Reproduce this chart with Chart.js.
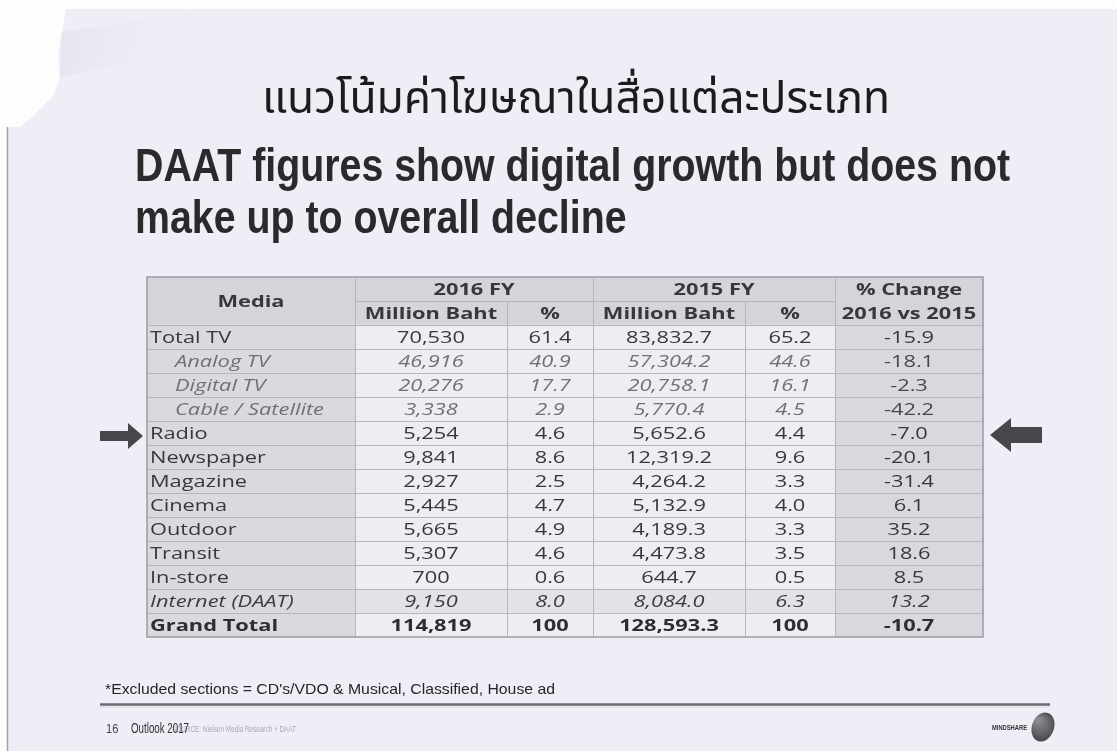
<!DOCTYPE html>
<html><head><meta charset="utf-8">
<script src="https://cdn.jsdelivr.net/npm/chart.js@4.4.1/dist/chart.umd.min.js"></script>
<style>
html,body{margin:0;padding:0;width:1117px;height:751px;overflow:hidden;background:#fff;}
canvas{position:absolute;left:0;top:0;}
</style></head><body>
<canvas id="c" width="1117" height="751"></canvas>
<script>
// ---------- data ----------
const media = ['Total TV','Analog TV','Digital TV','Cable / Satellite','Radio','Newspaper','Magazine','Cinema','Outdoor','Transit','In-store','Internet (DAAT)','Grand Total'];
const rowStyle = ['normal','sub','sub','sub','normal','normal','normal','normal','normal','normal','normal','italic','bold'];
const mb2016 = [70530,46916,20276,3338,5254,9841,2927,5445,5665,5307,700,9150,114819];
const pct2016 = [61.4,40.9,17.7,2.9,4.6,8.6,2.5,4.7,4.9,4.6,0.6,8.0,100];
const mb2015 = [83832.7,57304.2,20758.1,5770.4,5652.6,12319.2,4264.2,5132.9,4189.3,4473.8,644.7,8084.0,128593.3];
const pct2015 = [65.2,44.6,16.1,4.5,4.4,9.6,3.3,4.0,3.3,3.5,0.5,6.3,100];
const change = [-15.9,-18.1,-2.3,-42.2,-7.0,-20.1,-31.4,6.1,35.2,18.6,8.5,13.2,-10.7];
const headerTop = ['Media','2016 FY','2015 FY','% Change'];
const headerSub = ['Million Baht','%','Million Baht','%','2016 vs 2015'];
const thaiTitle = 'แนวโน้มค่าโฆษณาในสื่อแต่ละประเภท';
const headline = ['DAAT figures show digital growth but does not','make up to overall decline'];
const footnote = "*Excluded sections = CD's/VDO & Musical, Classified, House ad";
const pageNo = '16', outlook = 'Outlook 2017', source = 'SOURCE: Nielsen Media Research + DAAT', brand = 'MINDSHARE';
const highlightRow = 'Radio';

// ---------- layout ----------
const colWidths = [208,152,86,152,90,148];
const rowLabels = ['', ''].concat(media);
const NCOL = colWidths.length;
const totalW = colWidths.reduce((a,b)=>a+b,0);
const cum = [0]; colWidths.forEach(w=>cum.push(cum[cum.length-1]+w));

const fmt0 = v => v.toLocaleString('en-US');
const fmt1 = v => v.toLocaleString('en-US',{minimumFractionDigits:1,maximumFractionDigits:1});
const fmtP = v => v===100 ? '100' : v.toFixed(1);

function cellColor(r, c){
  if (r < 2) return '#d4d4db';
  if (c === 0) return '#d9d9e0';
  if (c === 5) return '#d8d8df';
  const m = r - 2;
  if (rowStyle[m] === 'italic') return '#e2e2e9';
  return '#ededf4';
}

const FONT_T = '"Open Sans", "DejaVu Sans", sans-serif';
function txt(ctx, s, x, y, font, color, sx, align){
  ctx.save();
  ctx.font = font; ctx.fillStyle = color; ctx.textAlign = align || 'left';
  ctx.translate(x, y); ctx.scale(sx, 1);
  ctx.fillText(s, 0, 0);
  ctx.restore();
}
function fitScale(ctx, s, font, width){
  ctx.save(); ctx.font = font; const w = ctx.measureText(s).width; ctx.restore();
  return width / w;
}

const pagePlugin = {
  id: 'page',
  beforeDraw(chart){
    const ctx = chart.ctx;
    ctx.save();
    ctx.fillStyle = '#fdfdfd'; ctx.fillRect(0,0,1117,751);
    // page with torn corner
    ctx.beginPath();
    ctx.moveTo(66,9); ctx.lineTo(1117,9); ctx.lineTo(1117,751); ctx.lineTo(7,751); ctx.lineTo(7,127);
    ctx.lineTo(20,127); ctx.lineTo(30,119); ctx.lineTo(42,107); ctx.lineTo(53,96); ctx.lineTo(60,78);
    ctx.lineTo(58,55); ctx.lineTo(62,32); ctx.closePath();
    ctx.fillStyle = '#eeeef7'; ctx.fill();
    // soft crease shading
    const g = ctx.createLinearGradient(60,20,200,50);
    g.addColorStop(0,'rgba(222,222,234,0.6)'); g.addColorStop(1,'rgba(238,238,247,0)');
    ctx.fillStyle = g;
    ctx.beginPath(); ctx.moveTo(62,32); ctx.lineTo(200,12); ctx.lineTo(200,45); ctx.lineTo(60,78); ctx.closePath(); ctx.fill();
    // left edge line
    ctx.strokeStyle = '#a2a2a8'; ctx.lineWidth = 1.5;
    ctx.beginPath(); ctx.moveTo(7.5,127); ctx.lineTo(7.5,751); ctx.stroke();

    // Thai title
    const thF = '44px "Noto Sans Thai", "Loma", "Garuda", "Norasi", "Tlwg Typo", "Noto Sans", sans-serif';
    txt(ctx, thaiTitle, 262, 113, thF, '#1c1c1e', fitScale(ctx, thaiTitle, thF, 628));
    // headline
    const hF = 'bold 46px "Liberation Sans", Arial, sans-serif';
    const hs = fitScale(ctx, headline[0], hF, 875);
    txt(ctx, headline[0], 135, 181, hF, '#2a2a2c', hs);
    txt(ctx, headline[1], 135, 233, hF, '#2a2a2c', hs);

    // footer
    const fF = '15px "Liberation Sans", Arial, sans-serif';
    txt(ctx, footnote, 105, 694, fF, '#262628', fitScale(ctx, footnote, fF, 450));
    ctx.strokeStyle = '#6c6c70'; ctx.lineWidth = 2.5;
    ctx.beginPath(); ctx.moveTo(100,704.5); ctx.lineTo(1050,704.5); ctx.stroke();
    ctx.strokeStyle = '#d8d8e0'; ctx.lineWidth = 1;
    ctx.beginPath(); ctx.moveTo(100,707); ctx.lineTo(1050,707); ctx.stroke();
    const sF = '9px "Liberation Sans", Arial, sans-serif';
    txt(ctx, source, 172, 732, sF, '#a8a8b2', fitScale(ctx, source, sF, 124));
    txt(ctx, pageNo, 106, 733, '13px "Liberation Sans", Arial, sans-serif', '#444446', 0.85);
    const oF = '15px "Liberation Sans", Arial, sans-serif';
    txt(ctx, outlook, 131, 733, oF, '#333335', fitScale(ctx, outlook, oF, 58));
    const bF = 'bold 8px "Liberation Sans", Arial, sans-serif';
    txt(ctx, brand, 992, 730, bF, '#333335', fitScale(ctx, brand, bF, 35));
    const rg = ctx.createRadialGradient(1038,720,2,1043,727,17);
    rg.addColorStop(0,'#8a8a8e'); rg.addColorStop(1,'#3e3e42');
    ctx.fillStyle = rg;
    ctx.beginPath(); ctx.ellipse(1043,727,11,15,0.35,0,Math.PI*2); ctx.fill();
    ctx.restore();
  },
  afterDatasetsDraw(chart){
    const ctx = chart.ctx, xs = chart.scales.x, ys = chart.scales.y;
    const X = k => xs.getPixelForValue(cum[k]);
    const step = ys.getPixelForValue(1) - ys.getPixelForValue(0);
    const Yc = r => ys.getPixelForValue(r);
    const Yt = r => Yc(r) - step/2;
    const nRows = rowLabels.length;
    ctx.save();
    // grid lines
    ctx.strokeStyle = '#b6b6be'; ctx.lineWidth = 1;
    for (let b = 1; b < nRows; b++){
      const y = Math.round(Yt(b)) + 0.5;
      ctx.beginPath();
      if (b === 1){ ctx.moveTo(X(1), y); ctx.lineTo(X(5), y); }
      else { ctx.moveTo(X(0), y); ctx.lineTo(X(NCOL), y); }
      ctx.stroke();
    }
    for (let k = 1; k < NCOL; k++){
      const x = Math.round(X(k)) + 0.5;
      const y0 = (k === 2 || k === 4) ? Yt(1) : Yt(0);
      ctx.beginPath(); ctx.moveTo(x, y0); ctx.lineTo(x, Yt(nRows)); ctx.stroke();
    }
    ctx.strokeStyle = '#9a9aa2'; ctx.lineWidth = 1.5;
    ctx.strokeRect(X(0), Yt(0), X(NCOL)-X(0), Yt(nRows)-Yt(0));

    // text
    const sx = fitScale(ctx, 'Magazine', '16px ' + FONT_T, 97);
    ctx.textBaseline = 'middle';
    const cx = k => (X(k) + X(k+1)) / 2;
    const hFont = 'bold 16px ' + FONT_T;
    const dark = '#38383c';
    txt(ctx, headerTop[0], cx(0), (Yc(0)+Yc(1))/2 + 1, hFont, dark, sx, 'center');
    txt(ctx, headerTop[1], (X(1)+X(3))/2, Yc(0)+1, hFont, dark, sx, 'center');
    txt(ctx, headerTop[2], (X(3)+X(5))/2, Yc(0)+1, hFont, dark, sx, 'center');
    txt(ctx, headerTop[3], cx(5), Yc(0)+1, hFont, dark, sx, 'center');
    headerSub.forEach((s,i)=> txt(ctx, s, cx(i+1), Yc(1)+1, hFont, dark, sx, 'center'));

    media.forEach((name, m) => {
      const r = m + 2, y = Yc(r) + 1, st = rowStyle[m];
      let font = '16px ' + FONT_T, col = dark;
      if (st === 'sub'){ font = 'italic 16px ' + FONT_T; col = '#707076'; }
      if (st === 'italic'){ font = 'italic 16px ' + FONT_T; col = '#3c3c40'; }
      if (st === 'bold'){ font = 'bold 16px ' + FONT_T; col = '#2e2e32'; }
      txt(ctx, name, X(0) + (st === 'sub' ? 28 : 3), y, font, col, sx, 'left');
      const vals = [fmt0(mb2016[m]), fmtP(pct2016[m]), fmt1(mb2015[m]), fmtP(pct2015[m]), change[m].toFixed(1)];
      vals.forEach((v,i) => {
        const plain = (i === 4 && st === 'sub');
        txt(ctx, v, cx(i+1), y, plain ? '16px ' + FONT_T : font, plain ? '#48484c' : col, sx, 'center');
      });
    });

    // arrows pointing at highlighted row
    const ra = media.indexOf(highlightRow) + 2;
    const yc = Yc(ra) + 3;
    ctx.fillStyle = '#47474b';
    ctx.beginPath();
    ctx.moveTo(100, yc-5); ctx.lineTo(128, yc-5); ctx.lineTo(128, yc-13); ctx.lineTo(143, yc);
    ctx.lineTo(128, yc+13); ctx.lineTo(128, yc+5); ctx.lineTo(100, yc+5); ctx.closePath(); ctx.fill();
    const yr = Yc(ra) + 2;
    ctx.beginPath();
    ctx.moveTo(1042, yr-8); ctx.lineTo(1011, yr-8); ctx.lineTo(1011, yr-17); ctx.lineTo(990, yr);
    ctx.lineTo(1011, yr+17); ctx.lineTo(1011, yr+8); ctx.lineTo(1042, yr+8); ctx.closePath(); ctx.fill();
    ctx.restore();
  }
};

const datasets = colWidths.map((w, c) => ({
  label: 'col' + c,
  data: rowLabels.map(() => w),
  backgroundColor: ctx => cellColor(ctx.dataIndex, c),
  borderWidth: 0,
  barPercentage: 1,
  categoryPercentage: 1
}));

new Chart(document.getElementById('c'), {
  type: 'bar',
  data: { labels: rowLabels, datasets },
  options: {
    indexAxis: 'y',
    responsive: false,
    animation: false,
    layout: { padding: { left: 147, right: 134, top: 277, bottom: 114 } },
    scales: {
      x: { type: 'linear', stacked: true, min: 0, max: totalW, display: false },
      y: { type: 'category', stacked: true, display: false }
    },
    plugins: { legend: { display: false }, tooltip: { enabled: false }, title: { display: false } }
  },
  plugins: [pagePlugin]
});
</script>
</body></html>
